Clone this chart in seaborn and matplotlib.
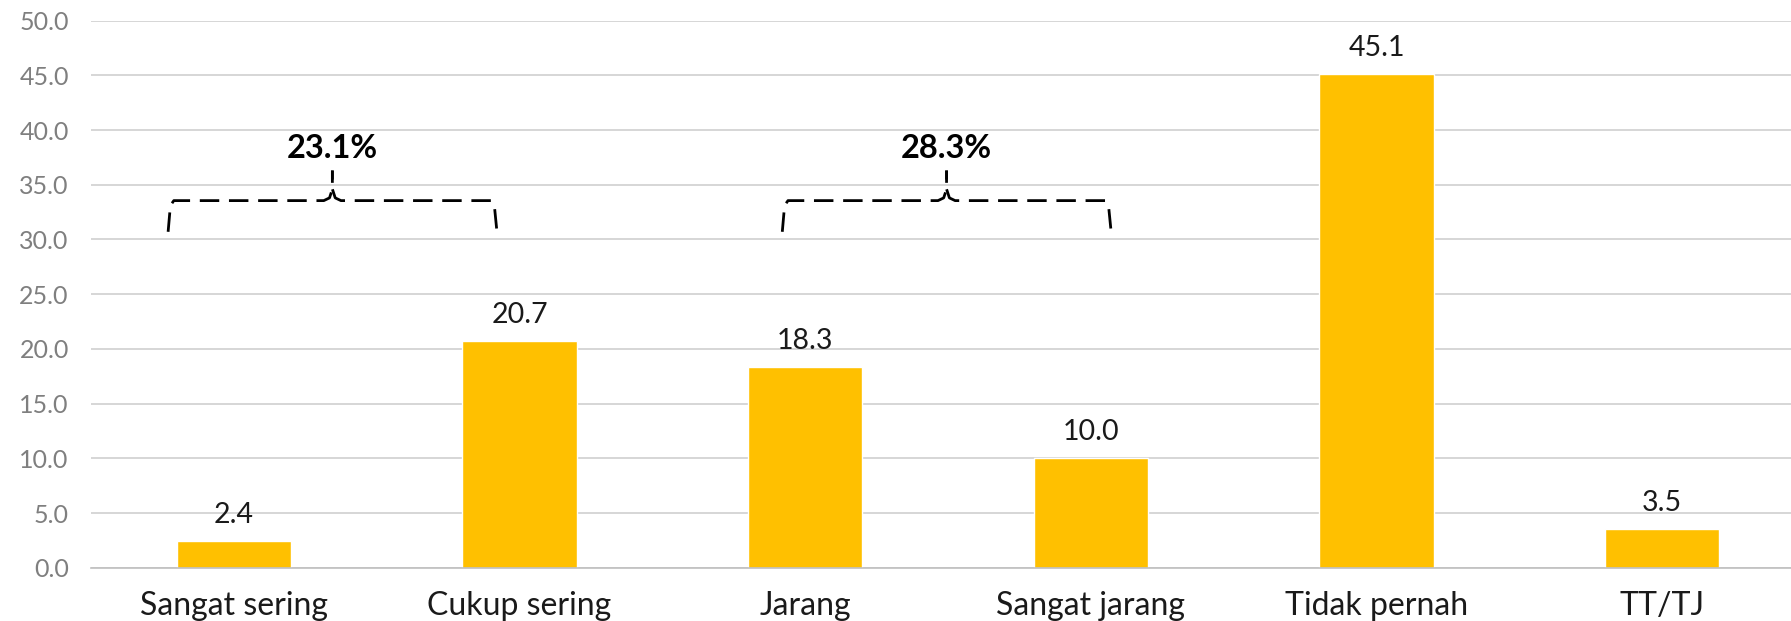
import numpy as np
import matplotlib
matplotlib.use("Agg")
import matplotlib.pyplot as plt
import seaborn as sns

categories = ["Sangat sering", "Cukup sering", "Jarang", "Sangat jarang", "Tidak pernah", "TT/TJ"]
values = [2.4, 20.7, 18.3, 10.0, 45.1, 3.5]
yticks = [0, 5, 10, 15, 20, 25, 30, 35, 40, 45, 50]
group_labels = ["23.1%", "28.3%"]
group_x0 = [-0.23, 1.92]
group_x1 = [0.92, 3.07]

sns.set_theme(style="white")
plt.rcParams['font.family'] = ['Lato', 'DejaVu Sans']

fig = plt.figure(figsize=(17.91, 6.21), dpi=100)
ax = fig.add_axes([0.0508, 0.0858, 0.957, 0.881])

sns.barplot(x=categories, y=values, color="#FFC000", width=0.4, saturation=1, ax=ax, zorder=3)

ax.set_xlim(-0.5, 5.5)
ax.set_ylim(0, 50)
ax.set_yticks(yticks)
ax.set_yticklabels([f"{v:.1f}" for v in yticks])
ax.yaxis.grid(True, color="#d0d0d0", lw=1.2, zorder=0)
ax.set_axisbelow(True)
for s in ["left", "right", "top"]:
    ax.spines[s].set_visible(False)
ax.spines["bottom"].set_color("#bfbfbf")
ax.spines["bottom"].set_linewidth(1.2)
ax.spines["bottom"].set_zorder(4)

ax.tick_params(axis="y", length=0, pad=16, labelsize=18, labelcolor="#7f7f7f")
ax.tick_params(axis="x", which="major", length=0, pad=17, labelsize=23, labelcolor="#1a1a1a")
ax.set_xticks(np.arange(-0.5, 5.6, 1), minor=True)
ax.tick_params(axis="x", which="minor", length=7, width=1.2, color="#bfbfbf")
ax.set_xlabel("")
ax.set_ylabel("")

for i, v in enumerate(values):
    ax.annotate(f"{v:.1f}", (i, v), xytext=(0, 19), textcoords="offset points",
                ha="center", va="center", fontsize=20.5, color="#1a1a1a")

y_h = 33.55
for lab, x0, x1 in zip(group_labels, group_x0, group_x1):
    xm = (x0 + x1) / 2
    left_x = [x0, x0 + 0.008, x0 + 0.02, xm - 0.03, xm - 0.01, xm, xm]
    left_y = [30.7, 33.1, y_h, y_h, 33.8, 34.6, 36.3]
    right_x = [xm, xm, xm + 0.01, xm + 0.03, x1 - 0.02, x1 - 0.008, x1]
    right_y = [36.3, 34.6, 33.8, y_h, y_h, 33.1, 31.0]
    ax.plot(left_x, left_y, color="black", lw=2.0, linestyle=(0, (7, 3.5)), zorder=5,
            solid_capstyle="butt", dash_capstyle="butt")
    ax.plot(right_x[::-1], right_y[::-1], color="black", lw=2.0, linestyle=(0, (7, 3.5)), zorder=5,
            solid_capstyle="butt", dash_capstyle="butt")
    ax.text(xm, 38.3, lab, ha="center", va="center", fontsize=23.5, fontweight="bold", color="black")

fig.savefig("out.png", dpi=100)
